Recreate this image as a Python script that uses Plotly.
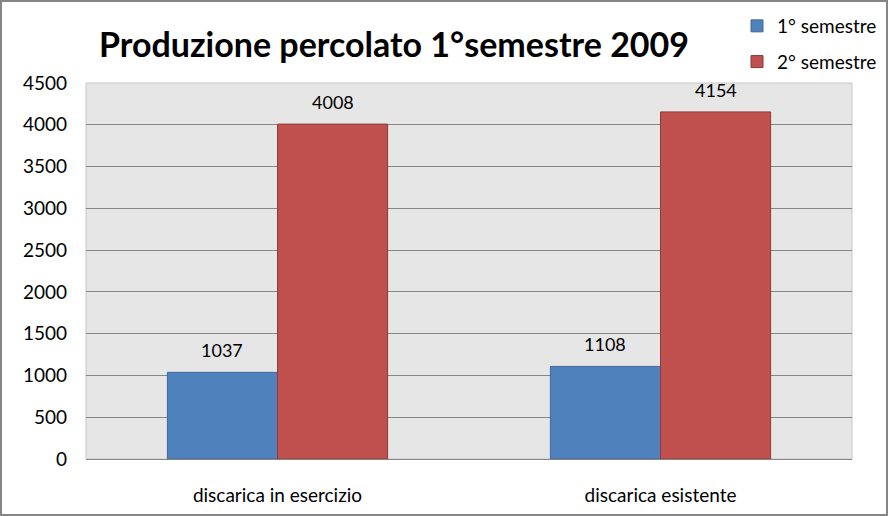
import plotly.graph_objects as go

categories = ["discarica in esercizio", "discarica esistente"]
series_names = ["1° semestre", "2° semestre"]
sem1 = [1037, 1108]
sem2 = [4008, 4154]
y_ticks = [0, 500, 1000, 1500, 2000, 2500, 3000, 3500, 4000, 4500]

colors = ["#4f81bd", "#c0504d"]
edge_colors = ["#41689a", "#8e3b39"]
FONT = "Lato"

W, H = 888, 516
L, R, T, B = 86, 36, 83, 57
pw, ph = W - L - R, H - T - B
BARGAP = 0.425

def px_x(x):
    return (x - L) / pw

def px_y(y):
    return (H - B - y) / ph

fig = go.Figure()
for i, (name, vals) in enumerate(zip(series_names, [sem1, sem2])):
    fig.add_trace(go.Bar(
        x=categories, y=vals, name=name, legendgroup=name,
        marker=dict(color=colors[i], line=dict(width=1, color=edge_colors[i])),
        cliponaxis=False,
    ))

# data labels placed above each bar
bar_w_px = pw / len(categories) * (1 - BARGAP) / 2
annotations = []
for i, vals in enumerate([sem1, sem2]):
    shift = (i - 0.5) * bar_w_px
    for c, v in zip(categories, vals):
        annotations.append(dict(
            x=c, y=v, xref="x", yref="y", text=str(v), showarrow=False,
            xanchor="center", yanchor="bottom", xshift=shift, yshift=9,
            font=dict(family=FONT, size=18, color="#000000"),
        ))

fig.update_layout(
    width=W, height=H,
    margin=dict(l=L, r=R, t=T, b=B, autoexpand=False),
    paper_bgcolor="#ffffff",
    plot_bgcolor="#e6e6e6",
    barmode="group",
    bargap=BARGAP,
    bargroupgap=0,
    font=dict(family=FONT, size=17, color="#000000"),
    title=dict(
        text="<b>Produzione percolato 1°semestre 2009</b>",
        font=dict(family=FONT, size=34, color="#000000"),
        x=px_x(394), xanchor="center", xref="paper",
        y=1 - 45 / H, yanchor="middle",
    ),
    legend=dict(
        x=px_x(737), y=px_y(7), xanchor="left", yanchor="top",
        font=dict(family=FONT, size=19, color="#000000"),
        bgcolor="rgba(0,0,0,0)",
        tracegroupgap=8, itemwidth=30,
    ),
    xaxis=dict(
        showgrid=False, showline=True, linecolor="#868686", linewidth=1,
        tickfont=dict(family=FONT, size=19, color="#000000"),
        ticks="", ticklabelstandoff=19,
    ),
    yaxis=dict(
        range=[0, 4500], tickvals=y_ticks,
        showgrid=True, gridcolor="#868686", gridwidth=1,
        showline=False, zeroline=False,
        tickfont=dict(family=FONT, size=19, color="#000000"),
        ticks="", ticklabelstandoff=18,
    ),
    annotations=annotations,
    shapes=[
        dict(type="rect", xref="paper", yref="paper",
             x0=px_x(1), x1=px_x(887), y0=px_y(515), y1=px_y(1),
             line=dict(color="#868686", width=2), layer="above"),
        dict(type="rect", xref="paper", yref="paper",
             x0=0, x1=1, y0=0, y1=1,
             line=dict(color="#c8c8c8", width=1), layer="below"),
    ],
)

fig.write_html("out.html")
